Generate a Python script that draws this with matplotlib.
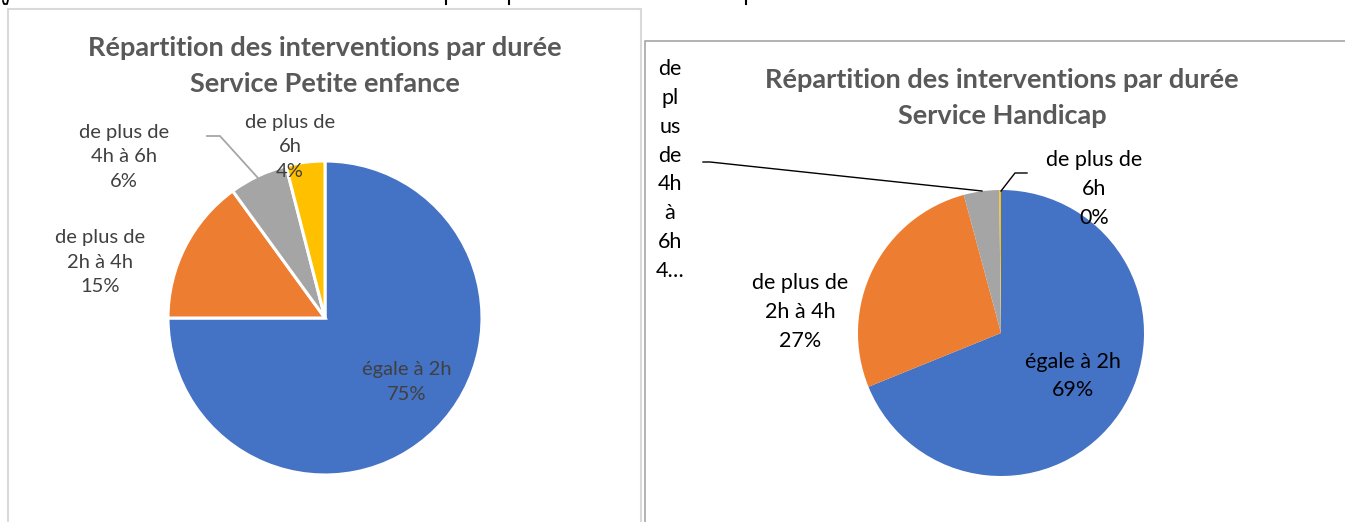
import matplotlib.pyplot as plt
from matplotlib.patches import Rectangle

# chart data
categories = ['égale à 2h', 'de plus de\n2h à 4h', 'de plus de\n4h à 6h', 'de plus de\n6h']
petite_enfance = [75, 15, 6, 4]
handicap = [69, 27, 4, 0.2]      # the 6h slice shows as a thin sliver, labelled 0%
handicap_pct = [69, 27, 4, 0]
colors = ['#4472C4', '#ED7D31', '#A5A5A5', '#FFC000']
title_top = 'Répartition des interventions par durée'
services = ['Service Petite enfance', 'Service Handicap']

W, H = 1345, 522
plt.rcParams['font.family'] = ['Lato', 'DejaVu Sans']


def py(y):
    # image pixel row -> data y
    return H - y


fig = plt.figure(figsize=(W / 100, H / 100), dpi=100)
ax = fig.add_axes([0, 0, 1, 1])

# panel frames
ax.add_patch(Rectangle((8, py(530)), 633, 521, fill=False, edgecolor='#d9d9d9', lw=1.5))
ax.add_patch(Rectangle((645, py(530)), 720, 489, fill=False, edgecolor='#a6a6a6', lw=1.2))

# descenders of the page text cut off above the charts
for x in [446, 509, 746]:
    ax.plot([x, x], [py(0), py(4)], color='black', lw=1.5)
ax.plot([3, 4, 7, 8], [py(1), py(4), py(4), py(0)], color='black', lw=1.3)

# ---- left chart: Petite enfance
ax.pie(petite_enfance, colors=colors, startangle=90, counterclock=False,
       center=(325, py(318)), radius=157,
       wedgeprops=dict(edgecolor='white', linewidth=2.2))
ax.text(325, py(66), title_top + '\n' + services[0], ha='center', va='center',
        fontsize=19.5, fontweight='bold', color='#595959', linespacing=1.55)
lab_gray = '#404040'
left_pos = [(407, 382), (100, 262), (124, 157), (290, 147)]
for (x, y), cat, p in zip(left_pos, categories, petite_enfance):
    ax.text(x, py(y), f'{cat}\n{p}%', ha='center', va='center', fontsize=14.5,
            color=lab_gray, linespacing=1.55)
ax.plot([207, 220, 258], [py(136), py(136), py(178)], color='#a6a6a6', lw=1.3)

# ---- right chart: Handicap
ax.pie(handicap, colors=colors, startangle=90, counterclock=False,
       center=(1001, py(333)), radius=143)
ax.text(1002, py(98), title_top + '\n' + services[1], ha='center', va='center',
        fontsize=19.5, fontweight='bold', color='#595959', linespacing=1.55)
ax.text(800, py(312), f'{categories[1]}\n{handicap_pct[1]}%', ha='center', va='center',
        fontsize=15.5, color='black', linespacing=1.55)
ax.text(1073, py(376), f'{categories[0]}\n{handicap_pct[0]}%', ha='center', va='center',
        fontsize=15.5, color='black', linespacing=1.55)
ax.text(1094, py(189), f'{categories[3]}\n{handicap_pct[3]}%', ha='center', va='center',
        fontsize=15.5, color='black', linespacing=1.55)
# wrapped, truncated label of the 4h-6h slice
ax.text(670, py(170), 'de\npl\nus\nde\n4h\nà\n6h\n' + str(handicap_pct[2])[0] + '…',
        ha='center', va='center', fontsize=15.5, color='black', linespacing=1.55)
ax.plot([703, 710, 982], [py(162), py(162), py(191)], color='black', lw=1)
ax.plot([1001, 1015, 1027], [py(191), py(173), py(173)], color='black', lw=1)

ax.set_xlim(0, W)
ax.set_ylim(0, H)
ax.set_aspect('auto')
ax.axis('off')

fig.savefig('out.png', dpi=100)
